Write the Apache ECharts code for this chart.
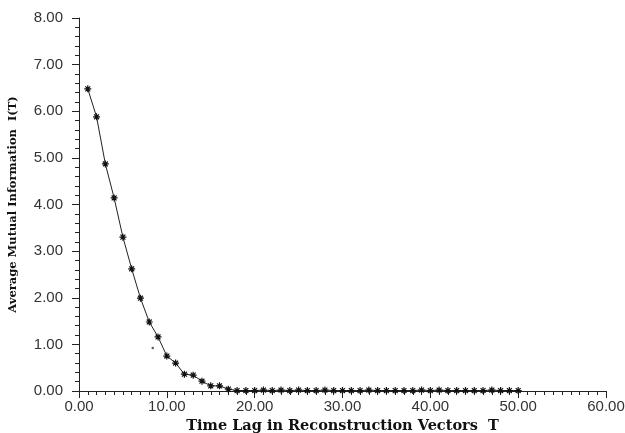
<!DOCTYPE html>
<html>
<head>
<meta charset="utf-8">
<script src="https://cdn.jsdelivr.net/npm/echarts@6/dist/echarts.min.js"></script>
<style>
  html, body { margin: 0; padding: 0; background: #fff; }
  #chart { width: 625px; height: 433px; }
</style>
</head>
<body>
<div id="chart"></div>
<script>
// time lag T and average mutual information I(T)
var lags = [1, 2, 3, 4, 5, 6, 7, 8, 9, 10,
            11, 12, 13, 14, 15, 16, 17, 18, 19, 20,
            21, 22, 23, 24, 25, 26, 27, 28, 29, 30,
            31, 32, 33, 34, 35, 36, 37, 38, 39, 40,
            41, 42, 43, 44, 45, 46, 47, 48, 49, 50];
var mutualInfo = [6.48, 5.88, 4.87, 4.14, 3.30, 2.62, 1.99, 1.48, 1.16, 0.75,
                  0.60, 0.36, 0.34, 0.21, 0.11, 0.11, 0.04, 0.01, 0.01, 0.01,
                  0.02, 0.01, 0.02, 0.01, 0.02, 0.01, 0.01, 0.02, 0.01, 0.01,
                  0.01, 0.01, 0.02, 0.01, 0.01, 0.01, 0.01, 0.01, 0.02, 0.01,
                  0.02, 0.01, 0.01, 0.01, 0.01, 0.01, 0.02, 0.01, 0.01, 0.01];
// a stray speck in the original scan
var strayX = [8.4];
var strayY = [0.92];

var xTicks = [0, 60, 10];   // min, max, interval
var yTicks = [0, 8, 1];

var lineData = lags.map(function (t, i) { return [t, mutualInfo[i]]; });
var strayData = strayX.map(function (t, i) { return [t, strayY[i]]; });

var chart = echarts.init(document.getElementById('chart'));

var star = 'path://M0,5 L10,5 M5,0 L5,10 M1.5,1.5 L8.5,8.5 M1.5,8.5 L8.5,1.5';

var option = {
    backgroundColor: '#fff',
    animation: false,
    grid: {
        left: 79,
        right: 19,
        top: 18,
        bottom: 42,
        outerBoundsMode: 'none'
    },
    xAxis: {
        type: 'value',
        min: xTicks[0],
        max: xTicks[1],
        interval: xTicks[2],
        name: 'Time Lag in Reconstruction Vectors  T',
        nameLocation: 'middle',
        nameGap: 27,
        nameTextStyle: {
            fontFamily: 'DejaVu Serif',
            fontWeight: 'bold',
            fontSize: 14.5,
            color: '#111'
        },
        axisLine: { lineStyle: { color: '#222', width: 1 } },
        axisTick: { show: true, inside: false, length: 7, lineStyle: { color: '#222' } },
        minorTick: { show: true, splitNumber: 10, length: 4, lineStyle: { color: '#222' } },
        splitLine: { show: false },
        axisLabel: {
            margin: 8,
            fontFamily: 'Liberation Sans',
            fontSize: 15,
            color: '#333',
            formatter: function (v) { return v.toFixed(2); }
        }
    },
    yAxis: {
        type: 'value',
        min: yTicks[0],
        max: yTicks[1],
        interval: yTicks[2],
        name: 'Average Mutual Information  I(T)',
        nameLocation: 'middle',
        nameGap: 60,
        nameTextStyle: {
            fontFamily: 'DejaVu Serif',
            fontWeight: 'bold',
            fontSize: 11.5,
            color: '#111'
        },
        axisLine: { show: true, lineStyle: { color: '#222', width: 1 } },
        axisTick: { show: true, inside: false, length: 7, lineStyle: { color: '#222' } },
        minorTick: { show: true, splitNumber: 5, length: 4, lineStyle: { color: '#222' } },
        splitLine: { show: false },
        axisLabel: {
            margin: 16,
            fontFamily: 'Liberation Sans',
            fontSize: 15,
            color: '#333',
            formatter: function (v) { return v.toFixed(2); }
        }
    },
    series: [
        {
            name: 'I(T)',
            type: 'line',
            data: lineData,
            symbol: star,
            symbolSize: 7,
            showAllSymbol: true,
            itemStyle: { color: 'none', borderColor: '#111', borderWidth: 1.2 },
            lineStyle: { color: '#222', width: 1 }
        },
        {
            name: 'speck',
            type: 'scatter',
            data: strayData,
            symbol: 'circle',
            symbolSize: 2.5,
            itemStyle: { color: '#333' }
        }
    ]
};
chart.setOption(option);
</script>
</body>
</html>
